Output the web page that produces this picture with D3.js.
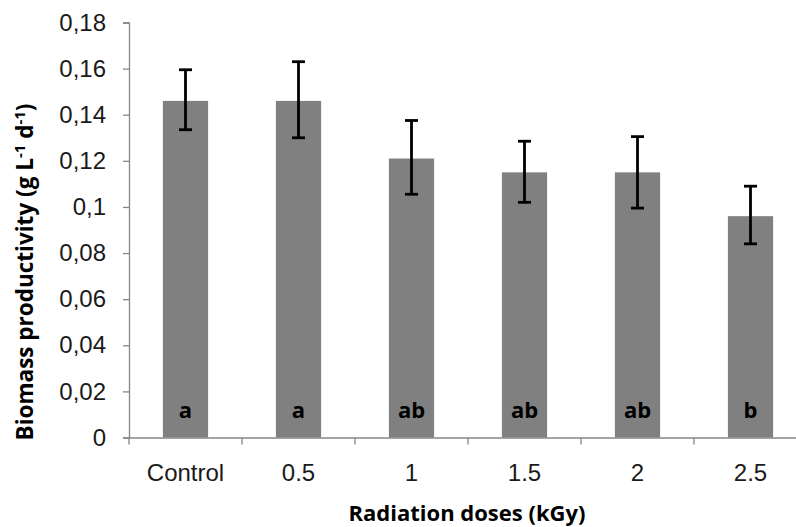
<!DOCTYPE html>
<html>
<head>
<meta charset="utf-8">
<script src="https://cdn.jsdelivr.net/npm/d3@7"></script>
<style>
  body { margin: 0; background: #fff; }
  svg { display: block; font-family: "Open Sans", Lato, sans-serif; }
</style>
</head>
<body>
<svg width="796" height="527"></svg>
<script>
const doses = ['Control', '0.5', '1', '1.5', '2', '2.5'];
const productivity = [0.146, 0.146, 0.121, 0.115, 0.115, 0.096];
const errLow = [0.0125, 0.016, 0.0155, 0.013, 0.0155, 0.012];
const errHigh = [0.0135, 0.017, 0.0165, 0.0135, 0.0155, 0.013];
const groups = ['a', 'a', 'ab', 'ab', 'ab', 'b'];
const yTicks = [0, 0.02, 0.04, 0.06, 0.08, 0.1, 0.12, 0.14, 0.16, 0.18];

const data = doses.map((d, i) => ({
  dose: d,
  value: productivity[i],
  lo: productivity[i] - errLow[i],
  hi: productivity[i] + errHigh[i],
  group: groups[i]
}));

const svg = d3.select('svg');
const mLeft = 129, mRight = 807, mTop = 22.5, mBottom = 437.5;

const x = d3.scaleBand()
  .domain(doses)
  .range([mLeft, mRight])
  .paddingInner(0.6)
  .paddingOuter(0.3);

const y = d3.scaleLinear()
  .domain([0, 0.18])
  .range([mBottom, mTop]);

const fmt = d => String(+d.toFixed(2)).replace('.', ',');

// y axis
const yAxis = svg.append('g')
  .attr('transform', `translate(${mLeft},0)`)
  .call(d3.axisLeft(y).tickValues(yTicks).tickSize(6).tickPadding(17).tickFormat(fmt));
yAxis.select('.domain').attr('stroke', '#868686').attr('stroke-width', 1.3);
yAxis.selectAll('.tick line').attr('stroke', '#868686').attr('stroke-width', 1.3);
yAxis.selectAll('.tick text')
  .attr('font-size', 24)
  .attr('fill', '#1a1a1a');

// bars
svg.append('g').selectAll('rect')
  .data(data)
  .enter()
  .append('rect')
  .attr('x', d => x(d.dose))
  .attr('y', d => y(d.value))
  .attr('width', x.bandwidth())
  .attr('height', d => y(0) - y(d.value))
  .attr('fill', '#808080');

// x axis
const xAxis = svg.append('g')
  .attr('transform', `translate(0,${mBottom})`)
  .call(d3.axisBottom(x).tickSize(0));
xAxis.select('.domain').attr('stroke', '#868686').attr('stroke-width', 1.3);
xAxis.selectAll('.tick text')
  .attr('y', 43)
  .attr('dy', 0)
  .attr('font-size', 24)
  .attr('fill', '#1a1a1a');

// category boundary ticks
xAxis.selectAll('.bound')
  .data(d3.range(doses.length + 1))
  .enter()
  .append('line')
  .attr('x1', i => mLeft + i * x.step())
  .attr('x2', i => mLeft + i * x.step())
  .attr('y1', 0)
  .attr('y2', 7)
  .attr('stroke', '#868686')
  .attr('stroke-width', 1.3);

// error bars
const eb = svg.append('g').selectAll('g')
  .data(data)
  .enter()
  .append('g')
  .attr('stroke', '#000')
  .attr('stroke-width', 2.8);
const cx = d => x(d.dose) + x.bandwidth() / 2;
eb.append('line')
  .attr('x1', cx).attr('x2', cx)
  .attr('y1', d => y(d.lo))
  .attr('y2', d => y(d.hi));
eb.append('line')
  .attr('x1', d => cx(d) - 6.5)
  .attr('x2', d => cx(d) + 6.5)
  .attr('y1', d => y(d.hi))
  .attr('y2', d => y(d.hi));
eb.append('line')
  .attr('x1', d => cx(d) - 6.5)
  .attr('x2', d => cx(d) + 6.5)
  .attr('y1', d => y(d.lo))
  .attr('y2', d => y(d.lo));

// group letters
svg.append('g').selectAll('text')
  .data(data)
  .enter()
  .append('text')
  .attr('x', cx)
  .attr('y', 418)
  .attr('text-anchor', 'middle')
  .attr('font-size', 22)
  .attr('font-weight', 'bold')
  .attr('fill', '#000')
  .text(d => d.group);

// axis titles
svg.append('text')
  .attr('x', 467)
  .attr('y', 521)
  .attr('text-anchor', 'middle')
  .attr('font-size', 22)
  .attr('font-weight', 'bold')
  .attr('fill', '#000')
  .text('Radiation doses (kGy)');

const yt = svg.append('text')
  .attr('transform', 'translate(33,272) rotate(-90)')
  .attr('text-anchor', 'middle')
  .attr('font-size', 22.5)
  .attr('font-weight', 'bold')
  .attr('fill', '#000');
yt.append('tspan').text('Biomass productivity (g L');
yt.append('tspan').attr('dy', -8).attr('font-size', 15).text('-1');
yt.append('tspan').attr('dy', 8).text(' d');
yt.append('tspan').attr('dy', -8).attr('font-size', 15).text('-1');
yt.append('tspan').attr('dy', 8).text(')');
</script>
</body>
</html>
